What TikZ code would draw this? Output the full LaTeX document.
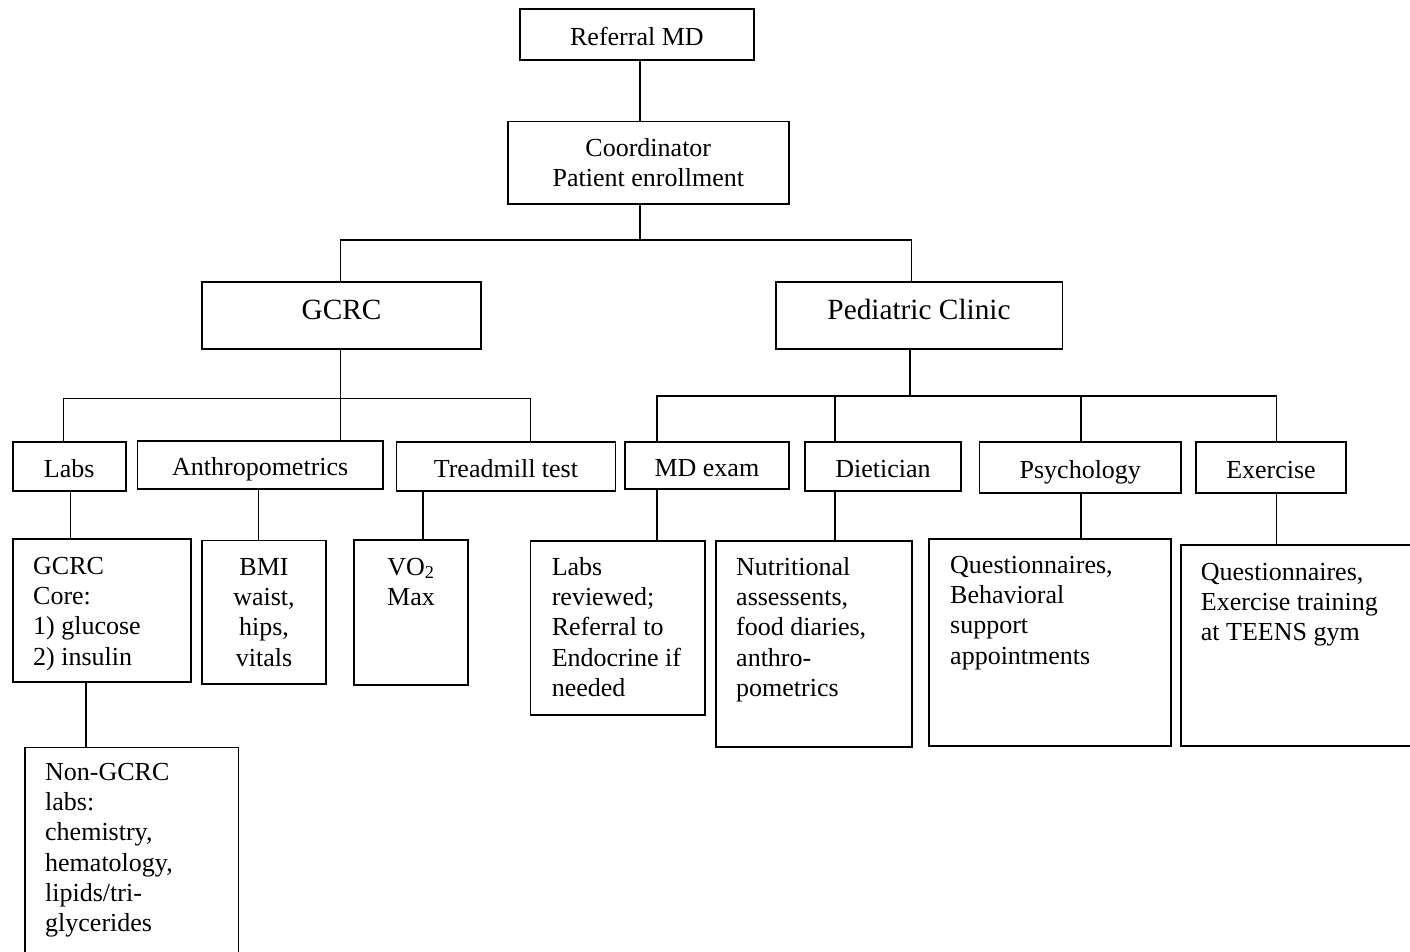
\documentclass[tikz,border=0pt]{standalone}
\usepackage{fontspec}
\setmainfont{Liberation Serif}
\usetikzlibrary{fit}
\begin{document}
\begin{tikzpicture}[x=1pt,y=-1pt,
  box/.style={draw, line width=1.6pt, inner sep=0pt},
  lbl/.style={font=\fontsize{26}{30}\selectfont, text height=22pt, text depth=1pt},
  big/.style={font=\fontsize{29.3}{34}\selectfont, text height=22pt, text depth=14.4pt},
  txt/.style={font=\fontsize{26}{30.3}\selectfont, align=left, inner sep=0pt, anchor=north west},
  ctxt/.style={font=\fontsize{26}{30.3}\selectfont, align=center, inner sep=0pt, anchor=north},
  conn/.style={line width=1.6pt}]
\useasboundingbox (0,0) rectangle (1410,952);

% top levels
\node[box, lbl, minimum width=234.2pt, minimum height=50.7pt] (ref) at (636.9,34.65) {Referral MD};
\node[box, font=\fontsize{26}{30}\selectfont, align=center, minimum width=281pt, minimum height=82.6pt] (coord) at (648.3,163) {Coordinator\\Patient enrollment};
\node[box, big, minimum width=279pt, minimum height=67pt] (gcrc) at (341.5,315.5) {GCRC};
\node[box, big, minimum width=286.6pt, minimum height=67pt] (ped) at (919,315.5) {Pediatric Clinic};

% middle row
\node[box, lbl, minimum width=113pt, minimum height=49pt] (labs) at (69.2,466.5) {Labs};
\node[box, lbl, minimum width=245.2pt, minimum height=48pt] (anthro) at (260.2,464.7) {Anthropometrics};
\node[box, lbl, minimum width=218.7pt, minimum height=49pt] (tread) at (505.95,466.5) {Treadmill test};
\node[box, lbl, minimum width=164.2pt, minimum height=47pt] (mdexam) at (706.9,465.5) {MD exam};
\node[box, lbl, minimum width=156pt, minimum height=49pt] (diet) at (883,466.5) {Dietician};
\node[box, lbl, minimum width=201.4pt, minimum height=51pt] (psych) at (1080.3,467.5) {Psychology};
\node[box, lbl, minimum width=150pt, minimum height=51pt] (exer) at (1271,467.5) {Exercise};

% detail boxes
\node[box, fit={(12.7,539)(191,681.7)}] (core) {};
\node[box, fit={(202,540.3)(326,684)}] (bmi) {};
\node[box, fit={(354,540)(468,685)}] (vo) {};
\node[box, fit={(530.6,540.7)(705,715)}] (mdd) {};
\node[box, fit={(716,540.7)(912,746.7)}] (dietd) {};
\node[box, fit={(929,538.7)(1171,745.7)}] (psychd) {};
\node[box, fit={(1181,544.7)(1418,745.7)}] (exerd) {};
\node[box, fit={(25,747.3)(238.3,962)}] (nongcrc) {};

% detail texts (top = first baseline - strut height 21.2)
\node[txt] (coreT) at (33,552.8) {\strut GCRC\\Core:\\1) glucose\\2) insulin};
\node[ctxt] (bmiT) at (264,553.8) {\strut BMI\\waist,\\hips,\\vitals};
\node[ctxt] (voT) at (411,553.8) {\strut VO\textsubscript{2}\\Max};
\node[txt] (mddT) at (551.6,553.8) {\strut Labs\\reviewed;\\Referral to\\Endocrine if\\needed};
\node[txt] (dietdT) at (736,553.8) {\strut Nutritional\\assessents,\\food diaries,\\anthro-\\pometrics};
\node[txt] (psychdT) at (950,551.8) {\strut Questionnaires,\\Behavioral\\support\\appointments};
\node[txt] (exerdT) at (1200.7,558.8) {\strut Questionnaires,\\Exercise training\\at TEENS gym};
\node[txt] (nonT) at (45,758.8) {\strut Non-GCRC\\labs:\\chemistry,\\hematology,\\lipids/tri-\\glycerides};

% connector positions
\coordinate (x640) at (640,0);
\coordinate (bus1) at (640,240);
\coordinate (xG) at (340.4,0);
\coordinate (xP) at (911.3,0);
\coordinate (gbus) at (340.4,398.3);
\coordinate (xLabs) at (63.3,0);
\coordinate (xTread) at (530.6,0);
\coordinate (pbus) at (910,396);
\coordinate (xMD) at (656.8,0);
\coordinate (xDi) at (835,0);
\coordinate (xPs) at (1081,0);
\coordinate (xEx) at (1276.6,0);
\coordinate (xL2) at (70.4,0);
\coordinate (xA2) at (258.6,0);
\coordinate (xT2) at (422.7,0);
\coordinate (xC2) at (86.2,0);

% connectors
\draw[conn] (ref.south -| x640) -- (coord.north -| x640);
\draw[conn] (coord.south -| x640) -- (bus1);
\draw[conn] (gcrc.north -| xG) |- (bus1) -| (ped.north -| xP);

\draw[conn] (gcrc.south -| xG) -- (anthro.north -| xG);
\draw[conn] (labs.north -| xLabs) |- (gbus) -| (tread.north -| xTread);

\draw[conn] (ped.south -| pbus) -- (pbus);
\draw[conn] (mdexam.north -| xMD) |- (pbus) -| (exer.north -| xEx);
\draw[conn] (diet.north -| xDi) -- (xDi |- pbus);
\draw[conn] (psych.north -| xPs) -- (xPs |- pbus);

\draw[conn] (labs.south -| xL2) -- (core.north -| xL2);
\draw[conn] (anthro.south -| xA2) -- (bmi.north -| xA2);
\draw[conn] (tread.south -| xT2) -- (vo.north -| xT2);
\draw[conn] (core.south -| xC2) -- (nongcrc.north -| xC2);
\draw[conn] (mdexam.south -| xMD) -- (mdd.north -| xMD);
\draw[conn] (diet.south -| xDi) -- (dietd.north -| xDi);
\draw[conn] (psych.south -| xPs) -- (psychd.north -| xPs);
\draw[conn] (exer.south -| xEx) -- (exerd.north -| xEx);
\end{tikzpicture}
\end{document}
